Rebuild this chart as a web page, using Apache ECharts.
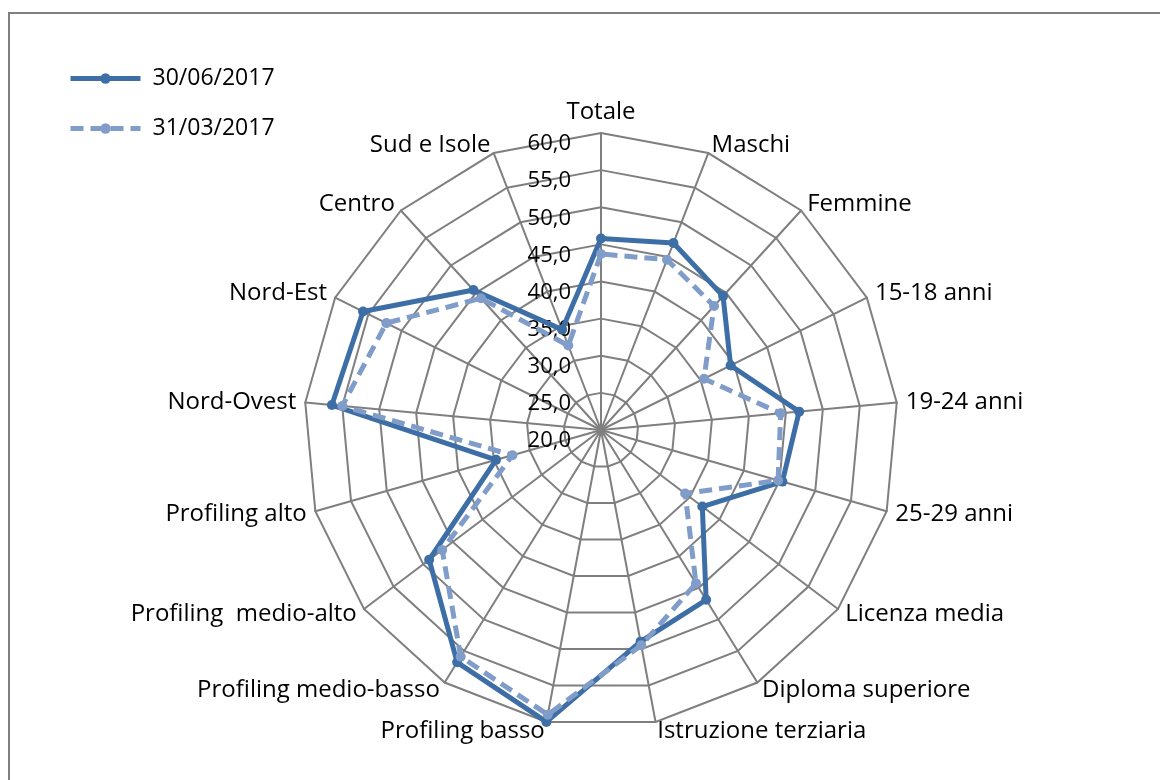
<!DOCTYPE html>
<html><head><meta charset="utf-8">
<script src="https://cdn.jsdelivr.net/npm/echarts@6/dist/echarts.min.js"></script>
<style>html,body{margin:0;padding:0;background:#fff}#c{width:1160px;height:780px}</style>
</head><body><div id="c"></div>
<script>
const categories = ['Totale','Maschi','Femmine','15-18 anni','19-24 anni','25-29 anni','Licenza media','Diploma superiore','Istruzione terziaria','Profiling basso','Profiling medio-basso','Profiling  medio-alto','Profiling alto','Nord-Ovest','Nord-Est','Centro','Sud e Isole'];
const seriesNames = ['30/06/2017','31/03/2017'];
const valuesJun2017 = [45.8,47.0,44.4,39.5,46.8,45.4,37.1,46.9,49.0,60.0,56.8,49.0,34.7,56.4,55.8,45.5,34.5];
const valuesMar2017 = [43.7,44.6,42.6,35.5,44.3,44.8,34.2,44.3,49.5,59.0,55.9,46.8,32.4,55.0,52.3,44.0,32.2];
const axisMin = 20, axisMax = 60, axisStep = 5;

const FONT = 'Open Sans';
const C1 = '#3D6FA6', C2 = '#809CC9', GRID = '#7F7F7F';

// ECharts radar places indicators counter-clockwise; reorder to run clockwise from the top
const order = [0].concat(categories.map((_, i) => i).slice(1).reverse());
const reorder = arr => order.map(i => arr[i]);

const chart = echarts.init(document.getElementById('c'), null, {renderer: 'canvas'});
const styles = [
  {lineStyle: {color: C1, width: 5, type: 'solid'}, itemStyle: {color: C1}},
  {lineStyle: {color: C2, width: 5, type: [13, 7]}, itemStyle: {color: C2}}
];
const valueSets = [valuesJun2017, valuesMar2017];

const legendSeries = seriesNames.map((n, k) => ({
  type: 'line', name: n, data: [], xAxisIndex: 0, yAxisIndex: 0,
  symbol: 'circle', symbolSize: 11, lineStyle: styles[k].lineStyle, itemStyle: styles[k].itemStyle
}));
const radarSeries = seriesNames.map((n, k) => ({
  type: 'radar', name: n, symbol: 'circle', symbolSize: 10, z: 3 + k,
  lineStyle: styles[k].lineStyle, itemStyle: styles[k].itemStyle,
  data: [{name: n, value: reorder(valueSets[k])}]
}));

chart.setOption({
  animation: false,
  backgroundColor: '#fff',
  graphic: [{type: 'rect', shape: {x: 9, y: 13, width: 1300, height: 900}, style: {fill: 'none', stroke: GRID, lineWidth: 2}, silent: true, z: -10}],
  grid: {show: false, left: 0, top: 0, width: 1, height: 1},
  xAxis: {show: false, type: 'category', data: []},
  yAxis: {show: false, type: 'value'},
  legend: {
    orient: 'vertical', left: 63, top: 62, itemWidth: 70, itemHeight: 13, itemGap: 27,
    data: seriesNames,
    lineStyle: {width: 5},
    textStyle: {fontSize: 23, color: '#000', fontFamily: FONT, padding: [0, 0, 0, 7]}
  },
  polar: {center: [601, 430], radius: 297},
  angleAxis: {show: false, startAngle: 90, min: 0, max: 360},
  radiusAxis: {
    min: axisMin, max: axisMax, interval: axisStep,
    axisLine: {show: false}, axisTick: {show: false}, splitLine: {show: false},
    axisLabel: {show: true, color: '#000', fontSize: 22, fontFamily: FONT, margin: 30, verticalAlign: 'top',
      formatter: v => v.toFixed(1).replace('.', ',')}
  },
  radar: {
    center: [601, 430], radius: 297, startAngle: 90, shape: 'polygon', splitNumber: 8,
    indicator: reorder(categories).map(name => ({name, min: axisMin, max: axisMax})),
    nameGap: 9,
    axisName: {color: '#000', fontSize: 24, fontFamily: FONT},
    axisLine: {lineStyle: {color: GRID, width: 2}},
    splitLine: {lineStyle: {color: GRID, width: 2}},
    splitArea: {show: false},
    axisTick: {show: false},
    axisLabel: {show: false}
  },
  series: legendSeries.concat(radarSeries)
});
</script></body></html>
